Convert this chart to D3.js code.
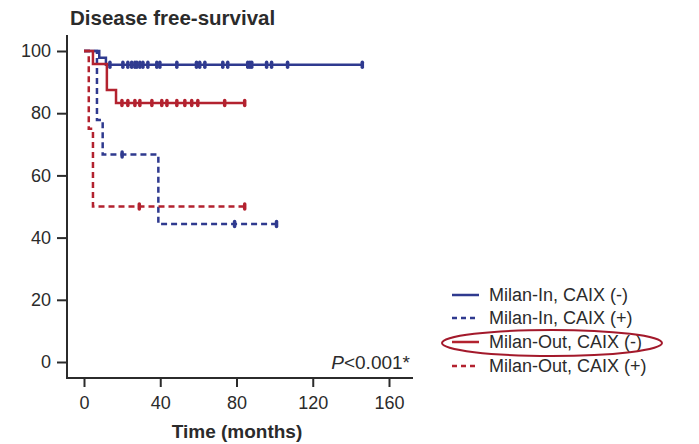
<!DOCTYPE html>
<html>
<head>
<meta charset="utf-8">
<script src="https://cdn.jsdelivr.net/npm/d3@7"></script>
<style>
  html, body { margin: 0; padding: 0; background: #fff; }
  svg { display: block; font-family: Arial, "Liberation Sans", Helvetica, sans-serif; }
</style>
</head>
<body>
<svg id="chart" width="699" height="444"></svg>
<script>
// Kaplan-Meier estimates (%) for disease-free survival by Milan criteria and CAIX status
const seriesNames = ["Milan-In, CAIX (-)", "Milan-In, CAIX (+)", "Milan-Out, CAIX (-)", "Milan-Out, CAIX (+)"];

const inNegTimes = [0, 8, 11.5];
const inNegSurv = [100, 97.8, 95.6];
const inNegCensor = [13.6, 20.4, 23, 25, 26.7, 27.7, 29.3, 30.9, 33.5, 38.2, 39.8, 48.7, 59, 60.7, 63.4, 72.8, 75.4, 85.9, 87, 88, 95.8, 98.4, 106.8, 146];
const inNegEnd = 146;

const inPosTimes = [0, 6.8, 9.8, 39];
const inPosSurv = [100, 77.8, 66.7, 44.4];
const inPosCensor = [20, 79, 101];
const inPosEnd = 101;

const outNegTimes = [0, 4.7, 12, 16.8];
const outNegSurv = [100, 95.8, 87.5, 83.3];
const outNegCensor = [19.9, 23, 26.7, 29.3, 35.6, 40.8, 43.5, 48.7, 52.9, 56.5, 59.7, 73.8, 84.3];
const outNegEnd = 84.3;

const outPosTimes = [0, 2.5, 4.7];
const outPosSurv = [100, 75, 50];
const outPosCensor = [29, 84.3];
const outPosEnd = 84.3;

const xTicks = [0, 40, 80, 120, 160];
const yTicks = [0, 20, 40, 60, 80, 100];

const titleText = "Disease free-survival";
const xTitle = "Time (months)";
const pText = "<0.001*";

const BLUE = "#2f3a8f";
const RED = "#b3222f";
const INK = "#2b2b2b";

const series = [
  { name: seriesNames[0], times: inNegTimes, surv: inNegSurv, censor: inNegCensor, end: inNegEnd, color: BLUE, dash: null },
  { name: seriesNames[1], times: inPosTimes, surv: inPosSurv, censor: inPosCensor, end: inPosEnd, color: BLUE, dash: "6,4" },
  { name: seriesNames[2], times: outNegTimes, surv: outNegSurv, censor: outNegCensor, end: outNegEnd, color: RED, dash: null },
  { name: seriesNames[3], times: outPosTimes, surv: outPosSurv, censor: outPosCensor, end: outPosEnd, color: RED, dash: "6,4" }
];

const svg = d3.select("#chart");

const x = d3.scaleLinear().domain([0, 160]).range([84, 389]);
const y = d3.scaleLinear().domain([0, 100]).range([362, 51]);

const axisX0 = 67, axisY0 = 378;

// title
svg.append("text")
  .attr("x", 70).attr("y", 25)
  .attr("font-size", 20.5).attr("font-weight", "bold").attr("fill", INK)
  .text(titleText);

// axis lines
svg.append("line")
  .attr("x1", axisX0).attr("x2", axisX0)
  .attr("y1", 35).attr("y2", axisY0)
  .attr("stroke", INK).attr("stroke-width", 2);
svg.append("line")
  .attr("x1", axisX0 - 1).attr("x2", 413)
  .attr("y1", axisY0).attr("y2", axisY0)
  .attr("stroke", INK).attr("stroke-width", 2);

// y axis
const yAxis = d3.axisLeft(y).tickValues(yTicks).tickSize(10).tickPadding(6);
const gy = svg.append("g").attr("transform", `translate(${axisX0},0)`).call(yAxis);
gy.select(".domain").remove();
gy.selectAll(".tick line").attr("stroke", INK).attr("stroke-width", 2);
gy.selectAll(".tick text").attr("fill", INK).attr("font-size", 18).attr("font-family", "Arial, 'Liberation Sans', sans-serif");

// x axis
const xAxis = d3.axisBottom(x).tickValues(xTicks).tickSize(9).tickPadding(9);
const gx = svg.append("g").attr("transform", `translate(0,${axisY0})`).call(xAxis);
gx.select(".domain").remove();
gx.selectAll(".tick line").attr("stroke", INK).attr("stroke-width", 2);
gx.selectAll(".tick text").attr("fill", INK).attr("font-size", 18).attr("font-family", "Arial, 'Liberation Sans', sans-serif");

svg.append("text")
  .attr("x", 237).attr("y", 438)
  .attr("text-anchor", "middle")
  .attr("font-size", 19).attr("font-weight", "bold").attr("fill", INK)
  .text(xTitle);

// survival curves
const stepLine = d3.line()
  .x(d => x(d[0]))
  .y(d => y(d[1]))
  .curve(d3.curveStepAfter);

function survAt(s, t) {
  let v = s.surv[0];
  s.times.forEach((tt, i) => { if (tt <= t) v = s.surv[i]; });
  return v;
}

const plot = svg.append("g");
series.forEach(s => {
  const pts = s.times.map((t, i) => [t, s.surv[i]]);
  pts.push([s.end, s.surv[s.surv.length - 1]]);
  plot.append("path")
    .attr("d", stepLine(pts))
    .attr("fill", "none")
    .attr("stroke", s.color)
    .attr("stroke-width", 2.5)
    .attr("stroke-dasharray", s.dash);
  // censoring marks
  plot.selectAll(null)
    .data(s.censor)
    .enter().append("line")
    .attr("x1", d => x(d)).attr("x2", d => x(d))
    .attr("y1", d => y(survAt(s, d)) - 2.5)
    .attr("y2", d => y(survAt(s, d)) + 2.5)
    .attr("stroke", s.color)
    .attr("stroke-width", 3.5)
    .attr("stroke-linecap", "round");
});

// p-value
const pt = svg.append("text")
  .attr("x", 410).attr("y", 369)
  .attr("text-anchor", "end")
  .attr("font-size", 19).attr("fill", INK);
pt.append("tspan").attr("font-style", "italic").text("P");
pt.append("tspan").text(pText);

// legend
const legendY = [295, 318, 342, 366];
const lg = svg.append("g");
series.forEach((s, i) => {
  lg.append("line")
    .attr("x1", 452).attr("x2", 479)
    .attr("y1", legendY[i]).attr("y2", legendY[i])
    .attr("stroke", s.color).attr("stroke-width", 2.5)
    .attr("stroke-dasharray", s.dash ? "5,4" : null);
  lg.append("text")
    .attr("x", 489).attr("y", legendY[i])
    .attr("dy", "0.35em")
    .attr("font-size", 18).attr("fill", INK)
    .text(s.name);
});

// highlight around Milan-Out, CAIX (-)
svg.append("ellipse")
  .attr("cx", 552).attr("cy", 343)
  .attr("rx", 110).attr("ry", 13)
  .attr("fill", "none")
  .attr("stroke", "#a3192b")
  .attr("stroke-width", 2);
</script>
</body>
</html>
